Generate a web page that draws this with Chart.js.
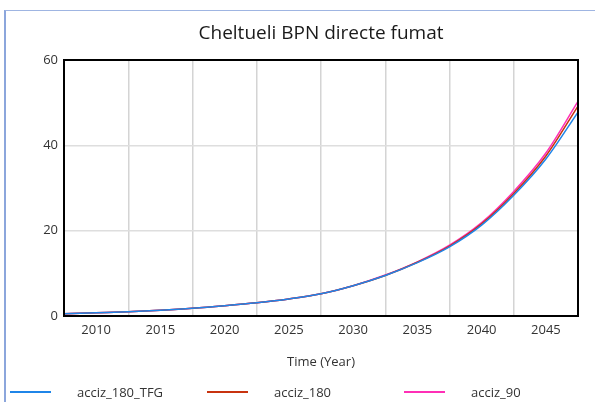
<!DOCTYPE html>
<html>
<head>
<meta charset="utf-8">
<script src="https://cdn.jsdelivr.net/npm/chart.js@4.4.0/dist/chart.umd.min.js"></script>
<style>
  html, body { margin: 0; padding: 0; background: #fff; }
  #wrap { position: relative; width: 595px; height: 402px; overflow: hidden; font-family: "Open Sans", sans-serif; }
  #frame { position: absolute; left: 4px; top: 10px; width: 620px; height: 420px;
           border-left: 2px solid #8ca6dc; border-top: 1px solid #9fb5e2; }
  canvas { position: absolute; left: 0; top: 0; }
  #legend { position: absolute; left: 10px; top: 384px; display: flex; }
  .item { width: 197px; height: 16px; display: flex; align-items: center; }
  .swatch { width: 41px; height: 2px; margin-right: 26px; }
  .label { font-size: 13px; color: #333; }
</style>
</head>
<body>
<div id="wrap">
  <div id="frame"></div>
  <canvas id="chart" width="595" height="402"></canvas>
  <div id="legend"></div>
</div>
<script>
// values
var years = [2007.5, 2010, 2012.5, 2015, 2017.5, 2020, 2022.5, 2025, 2027.5, 2030, 2032.5, 2035, 2037.5, 2040, 2042.5, 2045, 2047.5];
var xTickYears = [2010, 2015, 2020, 2025, 2030, 2035, 2040, 2045];
var yTicks = [0, 20, 40, 60];

var acciz180TFG = [0.5, 0.75, 1.0, 1.35, 1.8, 2.4, 3.1, 4.0, 5.2, 7.1, 9.5, 12.5, 16.2, 21.3, 28.3, 36.8, 47.8];
var acciz180    = [0.5, 0.75, 1.0, 1.35, 1.8, 2.4, 3.1, 4.0, 5.2, 7.1, 9.5, 12.6, 16.4, 21.6, 28.7, 37.5, 49.2];
var acciz90     = [0.5, 0.75, 1.0, 1.35, 1.8, 2.4, 3.1, 4.0, 5.2, 7.1, 9.6, 12.7, 16.6, 21.9, 29.2, 38.2, 50.3];

function toPoints(vals){
  return vals.map(function(v, i){ return {x: years[i], y: v}; });
}

function makeLine(label, vals, color){
  return {
    label: label,
    data: toPoints(vals),
    borderColor: color,
    backgroundColor: color,
    borderWidth: 1.5,
    pointRadius: 0,
    cubicInterpolationMode: 'monotone',
    fill: false
  };
}

// black box around the plot area
var plotFrame = {
  id: 'plotFrame',
  afterDatasetsDraw: function(chart){
    var a = chart.chartArea, ctx = chart.ctx;
    ctx.save();
    ctx.strokeStyle = '#000';
    ctx.lineWidth = 2;
    ctx.strokeRect(a.left, a.top, a.right - a.left, a.bottom - a.top);
    ctx.restore();
  }
};

var chart = new Chart(document.getElementById('chart'), {
  type: 'line',
  data: {
    datasets: [
      makeLine('acciz_180_TFG', acciz180TFG, '#1f85e8'),
      makeLine('acciz_180', acciz180, '#c8330f'),
      makeLine('acciz_90', acciz90, '#ff2fb6')
    ]
  },
  options: {
    responsive: false,
    animation: false,
    layout: { padding: { left: 0, right: 17, top: 10, bottom: 26 } },
    plugins: {
      legend: { display: false },
      tooltip: { enabled: false },
      title: {
        display: true,
        fullSize: false,
        text: 'Cheltueli BPN directe fumat',
        color: '#1a1a1a',
        font: { family: 'Open Sans', size: 19, weight: 'normal' },
        padding: { top: 12, bottom: 15.2 }
      }
    },
    scales: {
      x: {
        type: 'linear',
        min: years[0],
        max: years[years.length - 1],
        afterBuildTicks: function(s){ s.ticks = xTickYears.map(function(v){ return {value: v}; }); },
        afterFit: function(s){ s.height = 60; },
        border: { display: false },
        grid: { offset: true, color: '#d4d4d4', lineWidth: 1.5, drawTicks: false },
        ticks: {
          color: '#333',
          padding: 6,
          maxRotation: 0,
          font: { family: 'Open Sans', size: 13 },
          callback: function(v){ return String(v); }
        },
        title: {
          display: true,
          text: 'Time (Year)',
          color: '#333',
          font: { family: 'Open Sans', size: 13 },
          padding: { top: 0, bottom: 6 }
        }
      },
      y: {
        min: yTicks[0],
        max: yTicks[yTicks.length - 1],
        afterBuildTicks: function(s){ s.ticks = yTicks.map(function(v){ return {value: v}; }); },
        afterFit: function(s){ s.width = 64; },
        border: { display: false },
        grid: { color: '#dedede', lineWidth: 1.5, drawTicks: false },
        ticks: {
          color: '#333',
          padding: 6,
          font: { family: 'Open Sans', size: 13 }
        }
      }
    }
  },
  plugins: [plotFrame]
});

// legend row under the chart
var legend = document.getElementById('legend');
chart.data.datasets.forEach(function(ds){
  var item = document.createElement('div');
  item.className = 'item';
  var sw = document.createElement('div');
  sw.className = 'swatch';
  sw.style.background = ds.borderColor;
  var lb = document.createElement('span');
  lb.className = 'label';
  lb.textContent = ds.label;
  item.appendChild(sw);
  item.appendChild(lb);
  legend.appendChild(item);
});
</script>
</body>
</html>
